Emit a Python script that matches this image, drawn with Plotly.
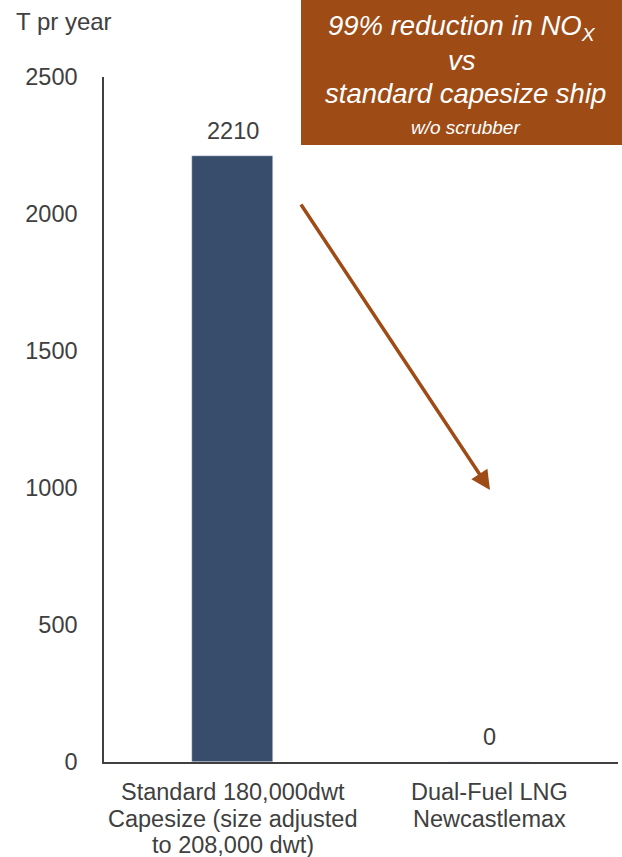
import plotly.graph_objects as go

categories = ["Standard 180,000dwt<br>Capesize (size adjusted<br>to 208,000 dwt)",
              "Dual-Fuel LNG<br>Newcastlemax"]
values = [2210, 0]
y_ticks = [0, 500, 1000, 1500, 2000, 2500]

W, H = 622, 857
ML, MR, MT, MB = 104, 4, 77, 95
PW = W - ML - MR
PH = H - MT - MB

def px(x):
    return (x - ML) / PW

def py(y):
    return (H - MB - y) / PH

FONT = "Liberation Sans, Arial, sans-serif"
TXT = "#404040"
BROWN = "#9E4B16"
FS = 23.5

fig = go.Figure()
fig.add_trace(go.Bar(
    x=categories, y=values,
    marker_color="#374D6B",
    width=0.315,
))

fig.update_layout(
    width=W, height=H,
    margin=dict(l=ML, r=MR, t=MT, b=MB),
    plot_bgcolor="white", paper_bgcolor="white",
    showlegend=False,
    font=dict(family=FONT, color=TXT, size=FS),
    bargap=0,
    xaxis=dict(showline=True, linecolor="#404040", linewidth=1.5,
               showticklabels=False, ticks="", showgrid=False,
               range=[-0.5, 1.5]),
    yaxis=dict(range=[0, 2500], tickvals=y_ticks, showline=True,
               linecolor="#404040", linewidth=1.5, showgrid=False,
               ticks="", tickfont=dict(size=FS, color=TXT), ticklabelstandoff=20,
               zeroline=False),
)

# category labels, one line at a time (tight line spacing)
for cat in categories:
    for i, line in enumerate(cat.split("<br>")):
        fig.add_annotation(text=line, xref="x", yref="paper", x=cat, y=0,
                           yshift=-(30 + 26.5 * i), showarrow=False,
                           xanchor="center", yanchor="middle",
                           font=dict(size=FS, color=TXT, family=FONT))

# value labels
for cat, v in zip(categories, values):
    fig.add_annotation(text=str(v), xref="x", yref="y", x=cat, y=v,
                       yshift=25, showarrow=False, xanchor="center", yanchor="middle",
                       font=dict(size=FS, color=TXT, family=FONT))

fig.add_shape(type="rect", xref="paper", yref="paper",
              x0=px(301), x1=px(622), y0=py(145), y1=py(0),
              fillcolor=BROWN, line_width=0, layer="above")

def ann(text, x, y, size, **kw):
    fig.add_annotation(text=text, xref="paper", yref="paper", x=px(x), y=py(y),
                       showarrow=False, font=dict(size=size, color=kw.pop("color", "white"), family=FONT),
                       xanchor=kw.pop("xanchor", "center"), yanchor="middle", **kw)

ann("<i>99% reduction in NO<sub>X</sub></i>", 462, 27, 27.5)
ann("<i>vs</i>", 462, 60, 27.5)
ann("<i>standard capesize ship</i>", 465, 93, 27.5)
ann("<i>w/o scrubber</i>", 465, 128, 19)
ann("T pr year", 14, 21, 24, color=TXT, xanchor="left")

fig.add_annotation(text="", xref="paper", yref="paper", x=px(490), y=py(490),
                   axref="pixel", ayref="pixel", ax=300 - 490, ay=203 - 490,
                   showarrow=True, arrowhead=2, arrowsize=1.1, arrowwidth=3.5,
                   arrowcolor=BROWN)

fig.write_html("out.html")
